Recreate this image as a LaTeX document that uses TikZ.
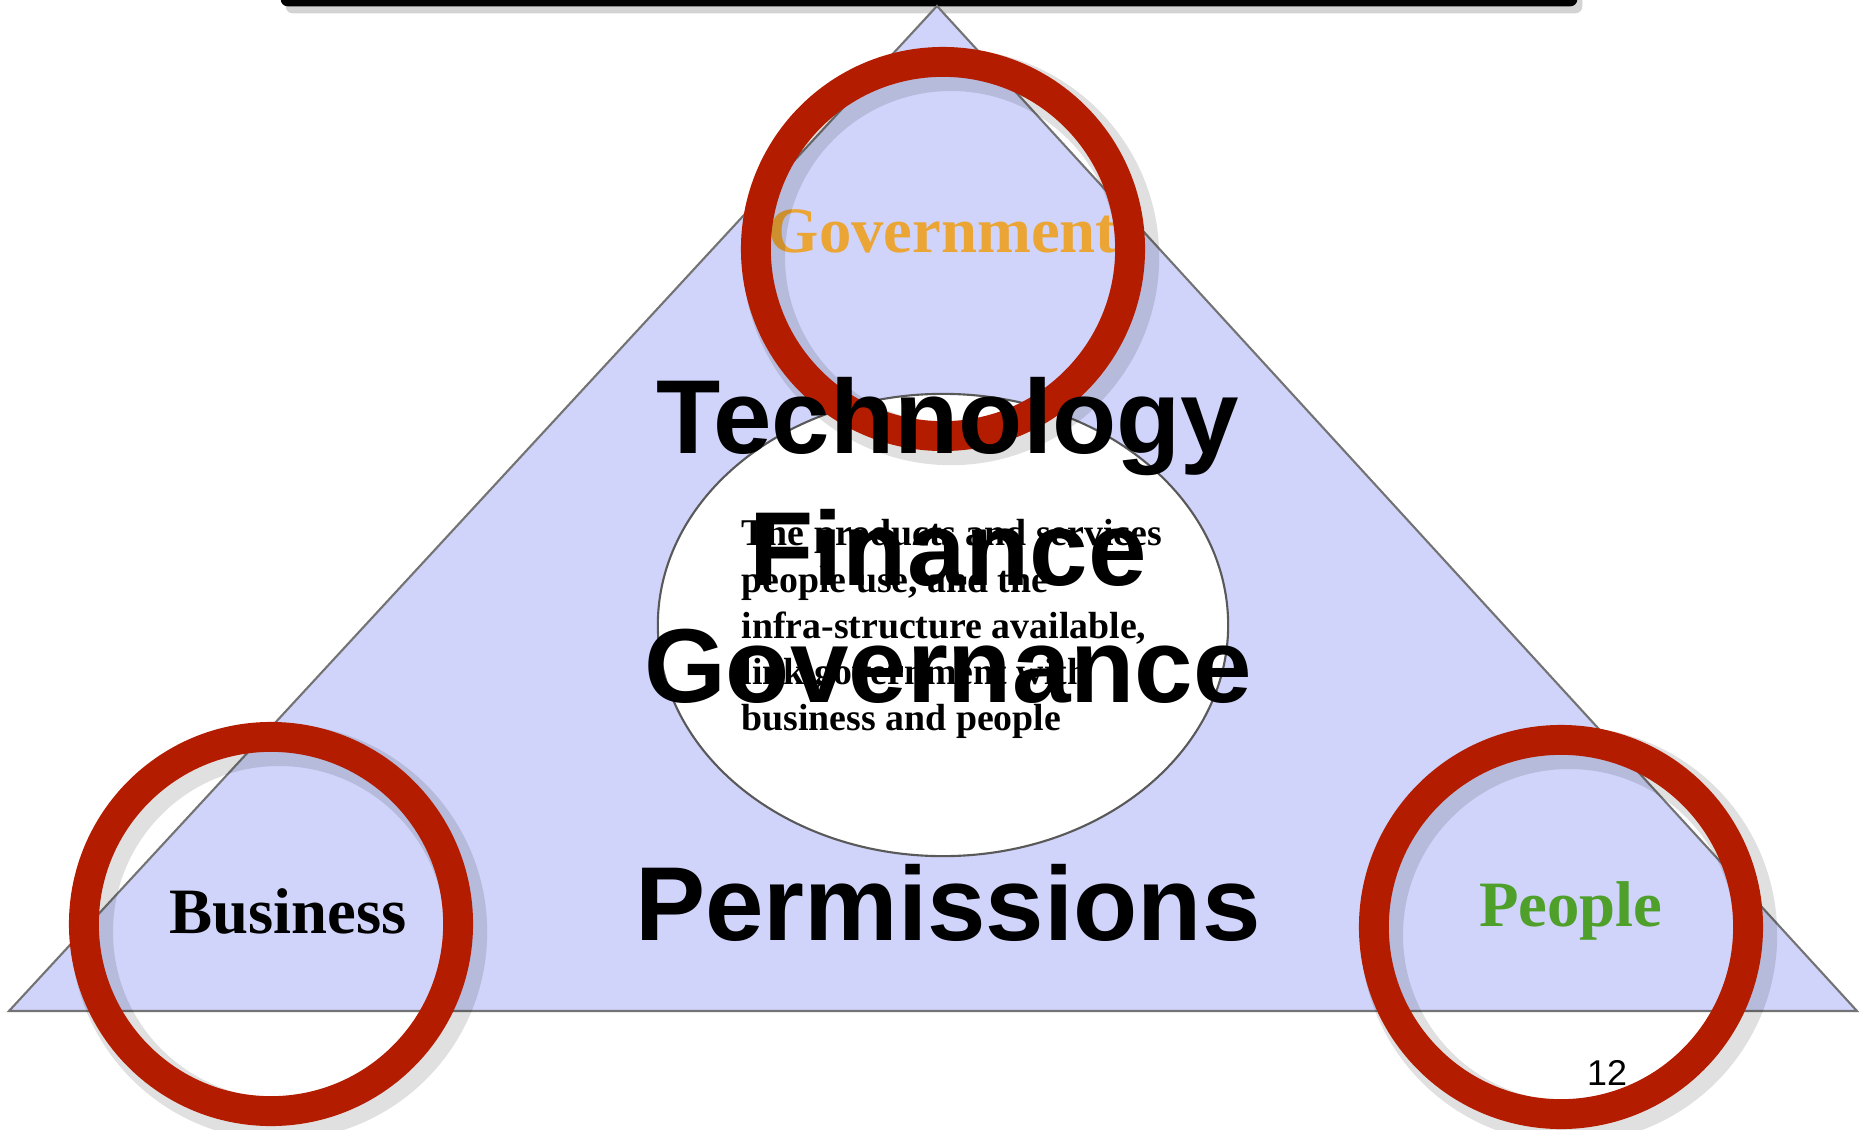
\documentclass[tikz,border=0pt]{standalone}
\usepackage{fontspec}
\setmainfont{Liberation Serif}
\setsansfont{Liberation Sans}
\usepackage{xcolor}
\usepackage{tikz}
\usetikzlibrary{positioning,shapes.geometric,shadows}

\definecolor{lavender}{RGB}{208,212,250}
\definecolor{ringred}{RGB}{180,28,0}
\definecolor{govorange}{RGB}{235,165,53}
\definecolor{peoplegreen}{RGB}{78,160,42}

\begin{document}
\begin{tikzpicture}[x=0.01cm,y=-0.01cm,
ringmark/.style={circle,draw=ringred,line width=8.5pt,minimum size=3.74cm,inner sep=0pt},
ringshade/.style={circle,draw=black,opacity=0.12,line width=12pt,minimum size=3.74cm,inner sep=0pt},
cornerword/.style={font=\fontsize{18.4}{22}\selectfont\bfseries,inner sep=0pt},
bigword/.style={font=\sffamily\bfseries\fontsize{29.9}{36}\selectfont,inner sep=0pt},
blurb/.style={font=\fontsize{10.75}{13.1}\selectfont\bfseries,align=left,inner sep=0pt,anchor=west}]
\useasboundingbox (0,0) rectangle (1859,1130);
% title bar cut off at the top
\node[fill=black,minimum width=12.96cm,minimum height=0.3cm,rounded corners=2pt,anchor=south,
drop shadow={opacity=0.35,shadow xshift=0.5mm,shadow yshift=-0.7mm}] (titlebar) at (929,7) {};
% triangle
\coordinate (apex) at (937,6);
\coordinate (leftfoot) at (9,1011);
\coordinate (rightfoot) at (1857,1011);
\filldraw[fill=lavender,draw=black!55,line width=0.6pt] (apex) -- (leftfoot) -- (rightfoot) -- cycle;
% centre ellipse
\node[ellipse,draw=black!65,fill=white,line width=0.6pt,minimum width=5.7cm,minimum height=4.62cm] (hub) at (943,625) {};
\node[blurb] (hubtext) at (741,629) {The products and services\\people use, and the\\infra-structure available,\\link government with\\business and people};
% corner labels
\node[cornerword,text=govorange] (government) at (943,231) {Government};
\node[cornerword,text=black] (business) at (288,911) {Business};
\node[cornerword,text=peoplegreen] (people) at (1571,911) {People};
\node[font=\sffamily\fontsize{10.2}{12}\selectfont,inner sep=0pt] (pageno) at (1607,1073) {12};
% red rings
\node[ringshade] at (951,257) {};
\node[ringshade] at (279,932) {};
\node[ringshade] at (1569,935) {};
\node[ringmark] (govring) at (943,249) {};
\node[ringmark] (busring) at (271,924) {};
\node[ringmark] (pplring) at (1561,927) {};
% big words
\node[bigword] (technology) at (948,427) {Technology};
\node[bigword] (finance) at (948,548) {Finance};
\node[bigword] (governance) at (948,666) {Governance};
\node[bigword] (permissions) at (948,903) {Permissions};
\end{tikzpicture}
\end{document}
